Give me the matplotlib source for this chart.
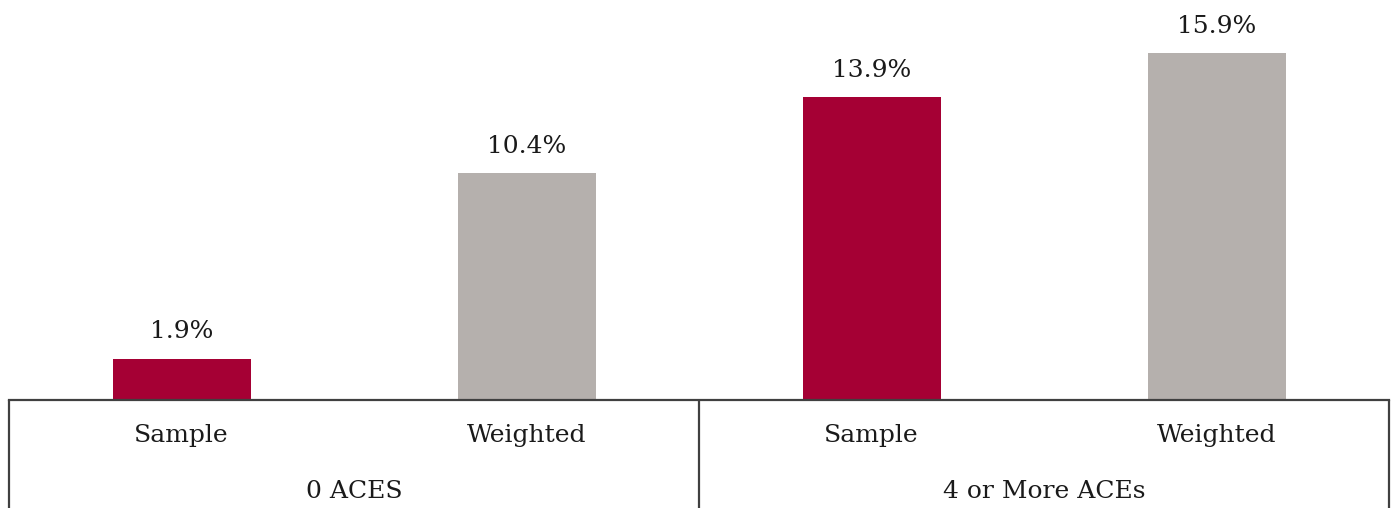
import matplotlib
matplotlib.use("Agg")
import matplotlib.pyplot as plt
from matplotlib.transforms import blended_transform_factory

groups = ["0 ACES", "4 or More ACEs"]
sub_labels = ["Sample", "Weighted", "Sample", "Weighted"]
values = [1.9, 10.4, 13.9, 15.9]
colors = ["#A50034", "#B5B0AD", "#A50034", "#B5B0AD"]

plt.rcParams['font.family'] = ['DejaVu Serif']

fig = plt.figure(figsize=(13.97, 5.08), dpi=100)
ax = fig.add_axes([9/1397, 108/508, 1380/1397, 400/508])

x = list(range(len(values)))
bars = ax.bar(x, values, width=0.4, color=colors)
for xi, v in zip(x, values):
    ax.annotate(f"{v:.1f}%", (xi, v), xytext=(0, 11), textcoords="offset points",
                ha="center", va="bottom", fontsize=18, color="#1a1a1a")

ax.set_xlim(-0.5, len(values) - 0.5)
ax.set_ylim(0, 18.35)
ax.set_yticks([])
ax.set_xticks(x)
ax.set_xticklabels(sub_labels, fontsize=18, color="#1a1a1a")
ax.tick_params(axis='x', length=0, pad=17)
for s in ["top", "right", "left"]:
    ax.spines[s].set_visible(False)
ax.spines["bottom"].set_color("#404040")
ax.spines["bottom"].set_linewidth(1.6)

tr = blended_transform_factory(ax.transData, ax.transAxes)
n_per = len(values) // len(groups)
for gi, g in enumerate(groups):
    center = gi * n_per + (n_per - 1) / 2
    ax.text(center, -0.228, g, transform=tr, ha="center", va="center",
            fontsize=18, color="#1a1a1a")
for b in [-0.5 + k * n_per for k in range(len(groups) + 1)]:
    ax.plot([b, b], [0, -0.28], transform=tr, color="#404040", lw=1.6,
            clip_on=False, solid_capstyle="butt")

fig.savefig("out.png", dpi=100)
